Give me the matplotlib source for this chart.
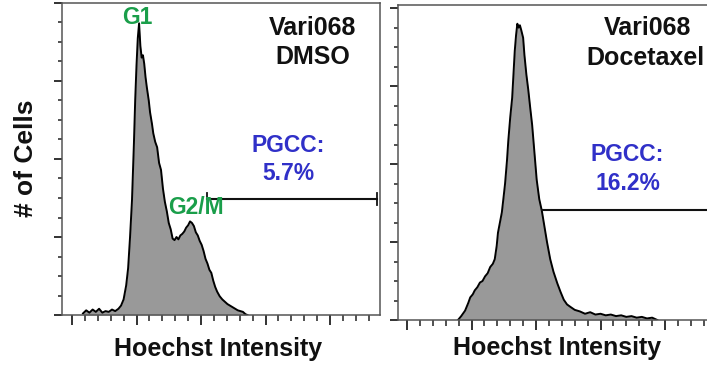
import matplotlib
matplotlib.use("Agg")
import matplotlib.pyplot as plt
from matplotlib.ticker import MultipleLocator, NullFormatter

plt.rcParams['font.family'] = ['Liberation Sans', 'DejaVu Sans']

# ---- data (x: Hoechst intensity, arbitrary units; y: # of cells, arbitrary units) ----
dmso_x = [0.17, 0.22, 0.27, 0.32, 0.37, 0.42, 0.47, 0.52, 0.57, 0.62, 0.67, 0.72, 0.76, 0.80,
          0.84, 0.87, 0.90, 0.93, 0.96, 0.98, 1.00, 1.02, 1.04, 1.06, 1.08, 1.10, 1.12, 1.14,
          1.16, 1.19, 1.21, 1.24, 1.26, 1.29, 1.32, 1.35, 1.38, 1.41, 1.44, 1.47, 1.50, 1.53,
          1.56, 1.59, 1.62, 1.65, 1.68, 1.71, 1.74, 1.77, 1.80, 1.83, 1.86, 1.89, 1.92, 1.95,
          1.98, 2.01, 2.04, 2.07, 2.10, 2.13, 2.16, 2.19, 2.22, 2.25, 2.29, 2.33, 2.37, 2.41,
          2.45, 2.49, 2.53, 2.57, 2.61, 2.65, 2.69, 2.72]
dmso_y = [0.02, 0.06, 0.03, 0.07, 0.04, 0.08, 0.03, 0.05, 0.04, 0.07, 0.05, 0.08, 0.12, 0.20,
          0.38, 0.60, 1.00, 1.47, 2.20, 2.76, 3.20, 3.55, 3.74, 3.45, 3.30, 3.33, 3.22, 3.05,
          2.92, 2.75, 2.60, 2.45, 2.33, 2.22, 2.15, 1.95, 1.86, 1.62, 1.45, 1.33, 1.18, 1.10,
          0.98, 0.96, 1.00, 0.97, 1.02, 1.04, 1.07, 1.12, 1.15, 1.20, 1.18, 1.14, 1.06, 1.02,
          0.95, 0.90, 0.82, 0.72, 0.66, 0.58, 0.54, 0.44, 0.36, 0.30, 0.24, 0.20, 0.17, 0.14,
          0.12, 0.10, 0.08, 0.06, 0.05, 0.04, 0.01, 0.0]

doce_x = [0.79, 0.84, 0.90, 0.95, 0.98, 1.02, 1.05, 1.09, 1.13, 1.17, 1.21, 1.25, 1.29, 1.33,
          1.36, 1.39, 1.41, 1.44, 1.47, 1.50, 1.52, 1.55, 1.57, 1.60, 1.63, 1.65, 1.67, 1.69,
          1.71, 1.73, 1.75, 1.77, 1.80, 1.82, 1.85, 1.88, 1.91, 1.94, 1.98, 2.01, 2.05, 2.09,
          2.13, 2.17, 2.22, 2.27, 2.33, 2.38, 2.43, 2.48, 2.53, 2.60, 2.68, 2.76, 2.84, 2.92,
          3.00, 3.08, 3.16, 3.24, 3.32, 3.40, 3.48, 3.56, 3.64, 3.72, 3.80, 3.88]
doce_y = [0.0, 0.05, 0.12, 0.22, 0.29, 0.33, 0.38, 0.42, 0.48, 0.50, 0.56, 0.60, 0.68, 0.72,
          0.78, 0.95, 1.12, 1.25, 1.38, 1.60, 1.75, 2.05, 2.30, 2.60, 2.85, 3.15, 3.45, 3.65,
          3.80, 3.75, 3.78, 3.72, 3.62, 3.40, 3.15, 2.95, 2.72, 2.50, 2.10, 1.80, 1.55, 1.40,
          1.20, 1.00, 0.78, 0.62, 0.47, 0.36, 0.26, 0.20, 0.17, 0.13, 0.11, 0.08, 0.10, 0.07,
          0.08, 0.06, 0.07, 0.05, 0.06, 0.04, 0.05, 0.03, 0.04, 0.02, 0.03, 0.0]

# PGCC gates: (x start, x end, y level)
dmso_gate = [2.09, 4.73, 1.49]
doce_gate = [2.09, 4.95, 1.41]

titles = [["Vari068", "DMSO"], ["Vari068", "Docetaxel"]]
pgcc_labels = [["PGCC:", "5.7%"], ["PGCC:", "16.2%"]]
phase_labels = ["G1", "G2/M"]
xlabel = "Hoechst Intensity"
ylabel = "# of Cells"

W, H = 707, 370
fig = plt.figure(figsize=(W / 100, H / 100), dpi=100)

def px_ax(l, b_px, w, h):
    return fig.add_axes([l / W, 1 - b_px / H, w / W, h / H])

ax1 = px_ax(62, 315, 318, 312)
ax2 = px_ax(398, 320, 318, 315)

green = '#1a9e4a'
blue = '#3030c8'
fillc = '#999999'
spc = '#555555'

def style(ax, xlim, ylim):
    ax.set_xlim(*xlim)
    ax.set_ylim(*ylim)
    for s in ax.spines.values():
        s.set_color(spc)
        s.set_linewidth(1.1)
    ax.xaxis.set_major_locator(MultipleLocator(1))
    ax.xaxis.set_minor_locator(MultipleLocator(0.2))
    ax.yaxis.set_major_locator(MultipleLocator(1))
    ax.yaxis.set_minor_locator(MultipleLocator(0.25))
    ax.xaxis.set_major_formatter(NullFormatter())
    ax.yaxis.set_major_formatter(NullFormatter())
    ax.tick_params(axis='x', which='major', direction='out', length=7, width=1.3, color='#222222')
    ax.tick_params(axis='x', which='minor', direction='out', length=4, width=1.1, color='#222222')
    ax.tick_params(axis='y', which='major', direction='out', length=6, width=1.3, color='#222222')
    ax.tick_params(axis='y', which='minor', direction='out', length=3, width=1.1, color='#222222')

style(ax1, (-0.155, 4.775), (0, 4.0))
style(ax2, (-0.14, 4.79), (0, 4.04))

for ax, xs, ys, gate in [(ax1, dmso_x, dmso_y, dmso_gate), (ax2, doce_x, doce_y, doce_gate)]:
    ax.fill_between(xs, ys, 0, color=fillc, linewidth=0)
    ax.plot(xs, ys, color='black', linewidth=1.4, solid_joinstyle='round')
    ax.plot([gate[0], gate[1]], [gate[2], gate[2]], color='#111111', linewidth=1.5, clip_on=False)

# gate caps (panel 1)
ax1.plot([dmso_gate[0], dmso_gate[0]], [dmso_gate[2], dmso_gate[2] + 0.08], color='#111111', linewidth=1.3)
ax1.plot([dmso_gate[1], dmso_gate[1]], [dmso_gate[2] - 0.08, dmso_gate[2] + 0.08], color='#111111', linewidth=1.3)

def ftext(x, y, s, **kw):
    fig.text(x / W, 1 - y / H, s, **kw)

bold = dict(fontweight='bold', ha='center', va='center')
ftext(313, 28, titles[0][0], fontsize=18, color='#111111', **bold)
ftext(313, 57, titles[0][1], fontsize=18, color='#111111', **bold)
ftext(648, 28, titles[1][0], fontsize=18, color='#111111', **bold)
ftext(645, 58, titles[1][1], fontsize=18, color='#111111', **bold)

ftext(288, 146, pgcc_labels[0][0], fontsize=16.5, color=blue, **bold)
ftext(288, 173, pgcc_labels[0][1], fontsize=16.5, color=blue, **bold)
ftext(627, 155, pgcc_labels[1][0], fontsize=16.5, color=blue, **bold)
ftext(628, 184, pgcc_labels[1][1], fontsize=16.5, color=blue, **bold)

ftext(137, 17, phase_labels[0], fontsize=16.5, color=green, **bold)
ftext(196, 208, phase_labels[1], fontsize=16.5, color=green, **bold)

ftext(26, 158, ylabel, fontsize=19, color='#111111', rotation=90, **bold)
ftext(218, 349, xlabel, fontsize=18, color='#111111', **bold)
ftext(557, 348, xlabel, fontsize=18, color='#111111', **bold)

fig.savefig("out.png", dpi=100)
